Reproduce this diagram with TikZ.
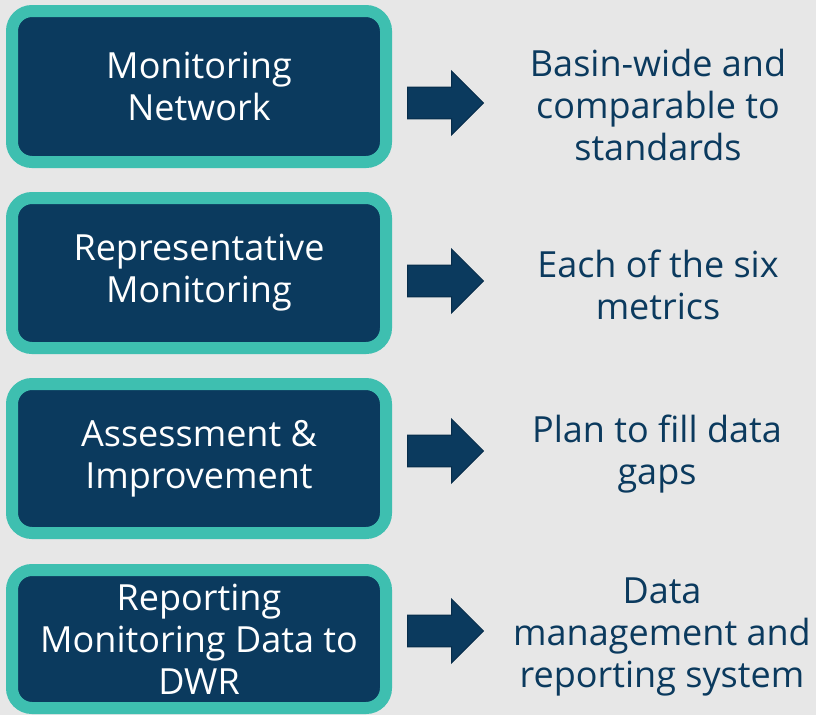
\documentclass[tikz,border=0pt]{standalone}
\usepackage{fontspec}
\setmainfont{Open Sans}
\usetikzlibrary{shapes.arrows}
\definecolor{navyfill}{RGB}{11,58,94}
\definecolor{tealrim}{RGB}{62,191,176}
\definecolor{pagegray}{RGB}{231,231,231}
\definecolor{arrowrim}{RGB}{6,44,74}

\begin{document}
\begin{tikzpicture}[x=0.75pt,y=0.75pt,yscale=-1,
  stagebox/.style={draw=tealrim, fill=navyfill, line width=9pt, rounded corners=15pt,
    minimum width=280.5pt, inner sep=0pt, text=white, align=center,
    font=\fontsize{27}{31.5}\selectfont},
  outcome/.style={inner sep=0pt, text=navyfill, align=center,
    font=\fontsize{27}{31.5}\selectfont},
  blockarrow/.style={single arrow, draw=arrowrim, fill=navyfill, line width=0.75pt,
    minimum height=57pt, inner xsep=0pt, inner ysep=11.6pt,
    single arrow head extend=12pt, anchor=tail}]
%set diagram area to 816 x 715
\useasboundingbox [fill=pagegray] (0,0) rectangle (816,715);

% Stage Node
\node [stagebox, minimum height=113.25pt] (network) at (199,86.5) {Monitoring\\Network};
% Stage Node
\node [stagebox, minimum height=112.5pt] (represent) at (199,273) {Representative\\Monitoring};
% Stage Node
\node [stagebox, minimum height=111.75pt] (assess) at (199,458.5) {Assessment \&\\Improvement};
% Stage Node
\node [stagebox, minimum height=103.5pt] (report) at (199,639) {Reporting\\Monitoring Data to\\DWR};

% Arrow Node
\node [blockarrow] (arrnetwork) at (407,103) {};
% Arrow Node
\node [blockarrow] (arrrepresent) at (407,281) {};
% Arrow Node
\node [blockarrow] (arrassess) at (407,451) {};
% Arrow Node
\node [blockarrow] (arrreport) at (407,631) {};

% Text Node
\node [outcome] (basin) at (658,105) {Basin-wide and\\comparable to\\standards};
% Text Node
\node [outcome] (metrics) at (658,284.5) {Each of the six\\metrics};
% Text Node
\node [outcome] (gaps) at (657,454) {Plan to fill data\\gaps};
% Text Node
\node [outcome] (datamgmt) at (662,637) {Data\\management and\\reporting system};

\end{tikzpicture}
\end{document}
